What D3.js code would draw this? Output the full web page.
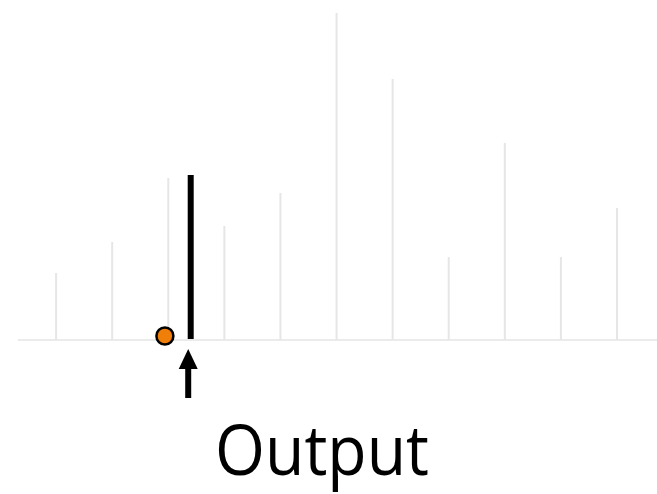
<!DOCTYPE html>
<html lang="en">
<head>
<script src="https://d3js.org/d3.v7.min.js"></script>
<style>
  body { margin: 0; background: #fff; }
</style>
</head>
<body>
<script>
// input samples (stems) and the single output sample
const samplePos = [1, 2, 3, 4, 5, 6, 7, 8, 9, 10, 11];
const sampleVals = [67, 98, 162, 114, 147, 327, 261, 83, 197, 83, 132];
const outputPos = 3.4;
const outputVal = 165;
const dotPos = 2.94;
const label = "Output";

const width = 657, height = 494;
const svg = d3.select("body").append("svg")
    .attr("width", width).attr("height", height);

const x = d3.scaleLinear().domain([0, 11]).range([0, 617]);
const y = d3.scaleLinear().domain([0, 330]).range([340, 10]);

// baseline
svg.append("line")
    .attr("x1", x(0.32)).attr("x2", width)
    .attr("y1", y(0)).attr("y2", y(0))
    .attr("stroke", "#ebebeb").attr("stroke-width", 2);

// stems
svg.selectAll(".stem")
    .data(samplePos)
    .enter().append("line")
    .attr("class", "stem")
    .attr("x1", d => x(d)).attr("x2", d => x(d))
    .attr("y1", y(0))
    .attr("y2", (d, i) => y(sampleVals[i]))
    .attr("stroke", "#e6e6e6").attr("stroke-width", 2);

// output bar
svg.append("line")
    .attr("x1", x(outputPos)).attr("x2", x(outputPos))
    .attr("y1", y(1)).attr("y2", y(outputVal))
    .attr("stroke", "#000").attr("stroke-width", 6);

// orange dot
svg.append("circle")
    .attr("cx", x(dotPos)).attr("cy", y(4))
    .attr("r", 8.5)
    .attr("fill", "#f07f09").attr("stroke", "#000").attr("stroke-width", 2.5);

// arrow
const ax = x(outputPos) - 2.5;
svg.append("line")
    .attr("x1", ax).attr("x2", ax)
    .attr("y1", 398).attr("y2", 366)
    .attr("stroke", "#000").attr("stroke-width", 6);
svg.append("path")
    .attr("d", `M${ax - 9.5},369 L${ax},349 L${ax + 9.5},369 Z`)
    .attr("fill", "#000");

// label
svg.append("text")
    .attr("x", 322).attr("y", 475)
    .attr("text-anchor", "middle")
    .attr("font-family", "'Open Sans', sans-serif")
    .attr("font-size", 70)
    .attr("textLength", 214)
    .attr("lengthAdjust", "spacingAndGlyphs")
    .attr("fill", "#000")
    .text(label);
</script>
</body>
</html>
